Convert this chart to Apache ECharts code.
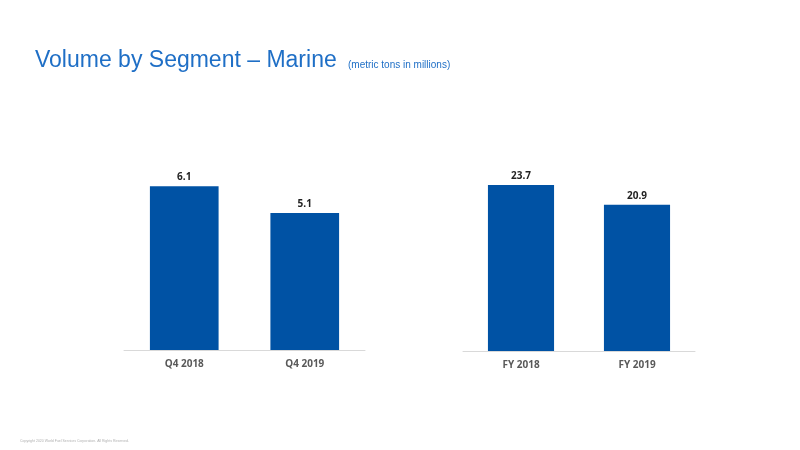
<!DOCTYPE html>
<html>
<head>
<meta charset="utf-8">
<script src="https://cdn.jsdelivr.net/npm/echarts@6/dist/echarts.min.js"></script>
<style>
  html, body { margin: 0; padding: 0; background: #fff; }
  #chart { width: 800px; height: 450px; }
</style>
</head>
<body>
<div id="chart"></div>
<script>
// Quarter data
var quarterCategories = ['Q4 2018', 'Q4 2019'];
var quarterValues = [6.1, 5.1];

// Full-year data
var yearCategories = ['FY 2018', 'FY 2019'];
var yearValues = [23.7, 20.9];

var barColor = '#0052a4';
var labelFont = '"Open Sans", "DejaVu Sans", sans-serif';
var titleFont = '"Liberation Sans", Arial, sans-serif';

function categoryAxis(gridIndex, data) {
    return {
        type: 'category',
        gridIndex: gridIndex,
        data: data,
        axisLine: { lineStyle: { color: '#d9d9d9', width: 1 } },
        axisTick: { show: false },
        axisLabel: {
            color: '#595959',
            fontWeight: 'bold',
            fontSize: 10,
            fontFamily: labelFont,
            margin: 9
        }
    };
}

function valueAxis(gridIndex, max) {
    return {
        type: 'value',
        gridIndex: gridIndex,
        min: 0,
        max: max,
        show: false
    };
}

function barSeries(index, values) {
    return {
        type: 'bar',
        xAxisIndex: index,
        yAxisIndex: index,
        data: values,
        barWidth: '57%',
        itemStyle: { color: barColor },
        label: {
            show: true,
            position: 'top',
            distance: 4,
            color: '#222',
            fontWeight: 'bold',
            fontSize: 10,
            fontFamily: labelFont,
            formatter: function(p) { return p.value.toFixed(1); }
        }
    };
}

var myChart = echarts.init(document.getElementById('chart'));
var option = {
    animation: false,
    title: [
        {
            text: 'Volume by Segment \u2013 Marine',
            left: 35,
            top: 49,
            padding: 0,
            textStyle: {
                color: '#1f6fc6',
                fontSize: 23,
                fontWeight: 'normal',
                fontFamily: titleFont
            }
        },
        {
            text: '(metric tons in millions)',
            left: 348,
            top: 60,
            padding: 0,
            textStyle: {
                color: '#1f6fc6',
                fontSize: 10,
                fontWeight: 'normal',
                fontFamily: titleFont
            }
        },
        {
            text: 'Copyright 2020 World Fuel Services Corporation. All Rights Reserved.',
            left: 20,
            top: 439,
            padding: 0,
            textStyle: {
                color: '#b0b0b0',
                fontSize: 3.5,
                fontWeight: 'normal',
                fontFamily: titleFont
            }
        }
    ],
    grid: [
        { left: 124, top: 162, width: 241, height: 188 },
        { left: 463, top: 176, width: 232, height: 175 }
    ],
    xAxis: [
        categoryAxis(0, quarterCategories),
        categoryAxis(1, yearCategories)
    ],
    yAxis: [
        valueAxis(0, 7),
        valueAxis(1, 25)
    ],
    series: [
        barSeries(0, quarterValues),
        barSeries(1, yearValues)
    ]
};
myChart.setOption(option);
</script>
</body>
</html>
